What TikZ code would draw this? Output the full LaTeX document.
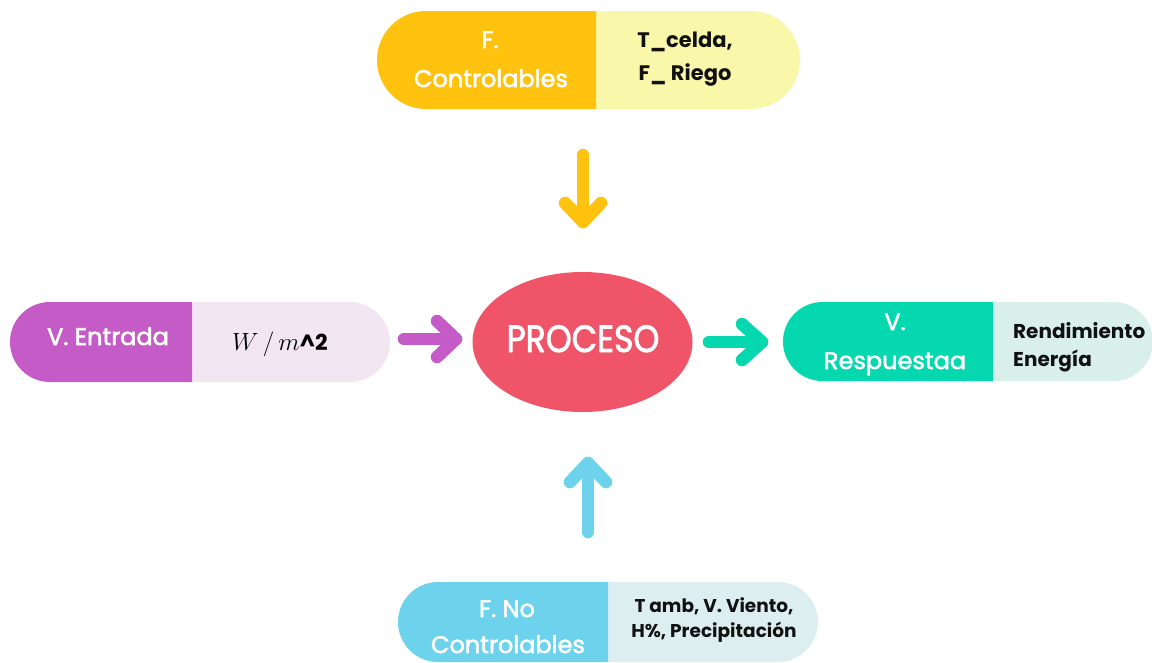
\documentclass[tikz,border=0pt]{standalone}
\usepackage{fontspec}
\setmainfont{Poppins}
\newfontfamily\popmed{Poppins}[FakeBold=2.2]
\usetikzlibrary{shapes.misc,shapes.geometric}
\definecolor{cOrange}{HTML}{FFC20E}
\definecolor{cYellow}{HTML}{F9F7A9}
\definecolor{cPurple}{HTML}{C45BC7}
\definecolor{cLav}{HTML}{F3E6F3}
\definecolor{cRed}{HTML}{EF5468}
\definecolor{cTeal}{HTML}{05D7AF}
\definecolor{cMint}{HTML}{D8EFEA}
\definecolor{cBlue}{HTML}{6DD2EC}
\definecolor{cIce}{HTML}{DDEEF1}
\definecolor{cInk}{HTML}{111111}
\begin{document}
\begin{tikzpicture}[x=1pt,y=-1pt,
  pillL/.style={rounded rectangle, rounded rectangle right arc=none, inner sep=0pt, draw=none},
  pillR/.style={rounded rectangle, rounded rectangle left arc=none, inner sep=0pt, draw=none},
  wtxt/.style={text=white, inner sep=0pt, anchor=base, font=\popmed\fontsize{24}{24}\selectfont},
  dtxt/.style={text=cInk, inner sep=0pt, anchor=base, font=\fontsize{21}{21}\selectfont\bfseries},
  arr/.style={line width=12.5pt, line cap=round, line join=round}]
\useasboundingbox (0,0) rectangle (1152,662);
\fill[white] (0,0) rectangle (1152,662);

% top pill
\node[pillR, fill=cYellow, minimum width=208, minimum height=98] (tR) at (696,60) {};
\node[pillL, fill=cOrange, minimum width=219, minimum height=98] (tL) at (486.5,60) {};
\node[wtxt] (t1) at (490,48) {F.};
\node[wtxt] (t2) at (491,87) {Controlables};
\node[dtxt] (t3) at (685,47) {T\_celda,};
\node[dtxt] (t4) at (685,80) {F\_ Riego};

% left pill
\node[pillR, fill=cLav, minimum width=200, minimum height=80] (lR) at (290,342) {};
\node[pillL, fill=cPurple, minimum width=182, minimum height=80] (lL) at (101,342) {};
\node[wtxt] (l1) at (108,345) {V. Entrada};
\node[inner sep=0pt, anchor=base] (l2) at (280,350) {\fontsize{28.5}{28.5}\selectfont$W\,/\,m$\fontsize{22}{22}\selectfont\bfseries\textasciicircum2};

% right pill
\node[pillR, fill=cMint, minimum width=162, minimum height=79] (rR) at (1072,341.5) {};
\node[pillL, fill=cTeal, minimum width=210, minimum height=79] (rL) at (888,341.5) {};
\node[wtxt] (r1) at (895,330) {V.};
\node[wtxt] (r2) at (895,369) {Respuestaa};
\node[dtxt, anchor=base west, font=\fontsize{20}{20}\selectfont\bfseries] (r3) at (1013,338) {Rendimiento};
\node[dtxt, anchor=base west, font=\fontsize{20}{20}\selectfont\bfseries] (r4) at (1013,366) {Energía};

% bottom pill
\node[pillR, fill=cIce, minimum width=212, minimum height=80] (bR) at (712,622) {};
\node[pillL, fill=cBlue, minimum width=210, minimum height=80] (bL) at (503,622) {};
\node[wtxt] (b1) at (507,617) {F. No};
\node[wtxt] (b2) at (508,653) {Controlables};
\node[dtxt, font=\fontsize{18.5}{18.5}\selectfont\bfseries] (b3) at (714,612) {T amb, V. Viento,};
\node[dtxt, font=\fontsize{18.5}{18.5}\selectfont\bfseries] (b4) at (714,637) {H\%, Precipitación};

% process
\node[ellipse, fill=cRed, minimum width=220, minimum height=140, inner sep=0pt] (p) at (582.5,342) {};
\node[text=white, inner sep=0pt, anchor=base, font=\popmed\fontsize{33}{33}\selectfont] (p1) at (583,352) {\scalebox{1}[1.15]{PROCESO}};

% arrows
\coordinate (a1s) at (583,155); \coordinate (a1t) at (583,222);
\draw[arr, cOrange] (a1s) -- (a1t);
\draw[arr, cOrange] (565,203) -- (a1t) -- (601,203);

\coordinate (a2s) at (588,532); \coordinate (a2t) at (588,463);
\draw[arr, cBlue] (a2s) -- (a2t);
\draw[arr, cBlue] (570,482) -- (a2t) -- (606,482);

\coordinate (a3s) at (404,339); \coordinate (a3t) at (456,339);
\draw[arr, cPurple] (a3s) -- (a3t);
\draw[arr, cPurple] (437,321) -- (a3t) -- (437,357);

\coordinate (a4s) at (709,342); \coordinate (a4t) at (762,342);
\draw[arr, cTeal] (a4s) -- (a4t);
\draw[arr, cTeal] (742,324) -- (a4t) -- (742,360);
\end{tikzpicture}
\end{document}
